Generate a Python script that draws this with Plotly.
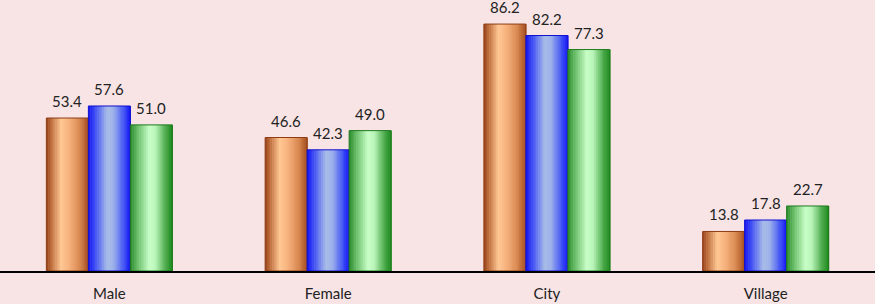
import plotly.graph_objects as go

categories = ["Male", "Female", "City", "Village"]
series_a = [53.4, 46.6, 86.2, 13.8]
series_b = [57.6, 42.3, 82.2, 17.8]
series_c = [51.0, 49.0, 77.3, 22.7]

all_series = [series_a, series_b, series_c]

gradients = [
    [(0, "#98431A"), (0.12, "#C0703F"), (0.35, "#FFC793"), (0.55, "#F6B07B"), (0.8, "#D7874F"), (1, "#A44C1F")],
    [(0, "#1414F2"), (0.15, "#3C4CF4"), (0.45, "#A9BDE8"), (0.6, "#9CB0EA"), (0.85, "#4052F5"), (1, "#1212F4")],
    [(0, "#2C8C2C"), (0.15, "#62B862"), (0.45, "#C8FFC8"), (0.6, "#B8F4B8"), (0.85, "#48A848"), (1, "#1C8A1C")],
]
edge_colors = ["#8E3C14", "#1010D0", "#1E7A1E"]


def hex2rgb(h):
    h = h.lstrip("#")
    return tuple(int(h[i:i + 2], 16) for i in (0, 2, 4))


def interp(stops, t):
    for (t0, c0), (t1, c1) in zip(stops[:-1], stops[1:]):
        if t0 <= t <= t1:
            f = 0 if t1 == t0 else (t - t0) / (t1 - t0)
            a, b = hex2rgb(c0), hex2rgb(c1)
            return "rgb(%d,%d,%d)" % tuple(round(a[i] + (b[i] - a[i]) * f) for i in range(3))
    return stops[-1][1]


bar_w = 0.192
group_start = -1.5 * bar_w
n_strips = 24
idx = list(range(len(categories)))

fig = go.Figure()
annotations = []
for s, vals in enumerate(all_series):
    start = group_start + s * bar_w
    sw = bar_w / n_strips
    for k in range(n_strips):
        t = (k + 0.5) / n_strips
        fig.add_trace(go.Bar(
            x=idx, y=vals, width=sw * 1.3, offset=start + k * sw,
            marker=dict(color=interp(gradients[s], t), line=dict(width=0)),
            showlegend=False, hoverinfo="skip",
        ))
    fig.add_trace(go.Bar(
        x=idx, y=vals, width=bar_w, offset=start,
        marker=dict(color="rgba(0,0,0,0)", line=dict(width=1, color=edge_colors[s])),
        showlegend=False,
    ))
    for i, v in zip(idx, vals):
        annotations.append(dict(
            x=i + start + bar_w / 2, y=v, xref="x", yref="y",
            text="%.1f" % v, showarrow=False, yanchor="bottom", yshift=6,
            font=dict(family="Lato", size=15, color="#222222"),
        ))

fig.update_layout(
    width=875, height=304,
    barmode="overlay",
    paper_bgcolor="#F8E4E5", plot_bgcolor="#F8E4E5",
    margin=dict(l=0, r=0, t=0, b=33, autoexpand=False),
    xaxis=dict(range=[-0.5, len(categories) - 0.5], tickvals=idx, ticktext=categories,
               showline=True, linecolor="#000000", linewidth=1.5, showgrid=False,
               zeroline=False, ticks="", tickfont=dict(family="Lato", size=15, color="#222222"),
               ticklabelstandoff=8),
    yaxis=dict(range=[0, 94.6], visible=False, showgrid=False),
    annotations=annotations,
)

fig.write_html("out.html", config={"displayModeBar": False},
               post_script="document.body.style.margin='0px';")
